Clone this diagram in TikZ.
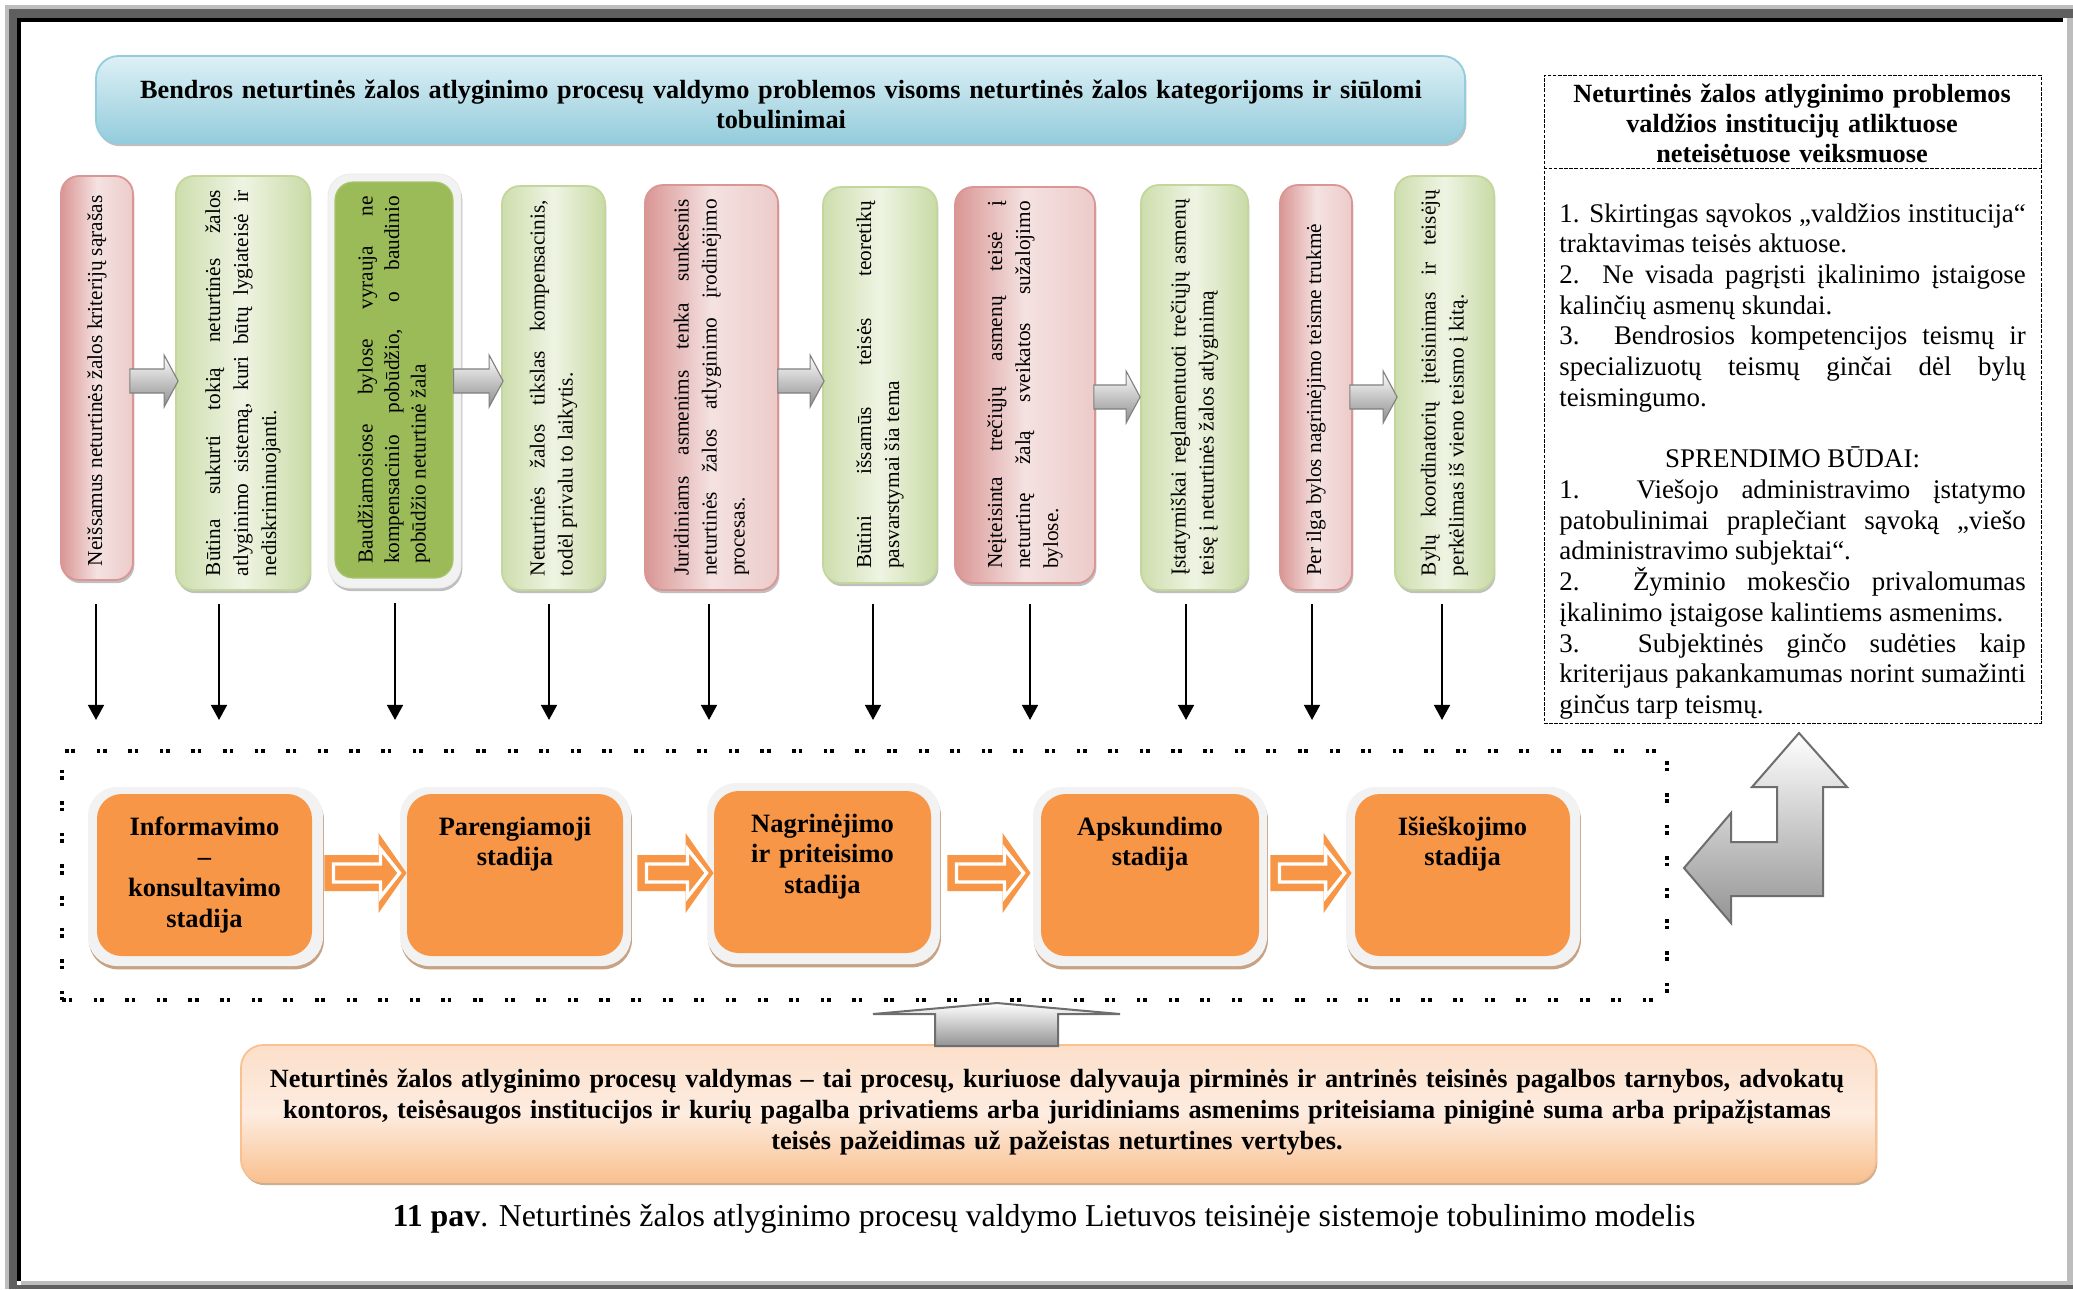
\documentclass[tikz,border=0pt]{standalone}
\usepackage{fontspec}
\setmainfont{Liberation Serif}
\usetikzlibrary{fit,calc,shadows,arrows.meta}

\definecolor{rdark}{HTML}{D99694}
\definecolor{rlight}{HTML}{F4E2E1}
\definecolor{gdark}{HTML}{C3D69B}
\definecolor{glight}{HTML}{EEF4E3}
\definecolor{gdeep}{HTML}{9BBB59}
\definecolor{stageor}{HTML}{F79646}
\definecolor{halo}{HTML}{F2F2F2}
\definecolor{bluetop}{HTML}{DDF0F5}
\definecolor{bluebot}{HTML}{94CCDC}
\definecolor{blueedge}{HTML}{93CDDD}
\definecolor{peach}{HTML}{FDECE0}
\definecolor{peachtop}{HTML}{FCDFCA}
\definecolor{peachdark}{HTML}{F9C08F}
\definecolor{peachedge}{HTML}{FAC08F}
\definecolor{arrowedge}{HTML}{6E6E6E}
\definecolor{framedark}{HTML}{5F5F5F}
\definecolor{framelight}{HTML}{BDBDBD}
\definecolor{shadowbrown}{HTML}{C09A78}

% block arrow pointing right: [style]{tail point}{tip point}{shaft half}{head half}{head length}
\newcommand\blockarrow[6][]{%
  \path[#1] ($(#2)+(0,-#4)$) -- ($(#3)+(-#6,-#4)$) -- ($(#3)+(-#6,-#5)$) -- (#3)
    -- ($(#3)+(-#6,#5)$) -- ($(#3)+(-#6,#4)$) -- ($(#2)+(0,#4)$) -- cycle;}

\tikzset{
  boxshadow/.style={drop shadow={shadow xshift=0.6pt,shadow yshift=-1.4pt,fill=black!55,opacity=0.45}},
  tallbox/.style={rounded corners=8pt,line width=0.8pt,inner sep=0pt,boxshadow},
  redbox/.style={tallbox,draw=rdark,left color=rdark,right color=rlight!70!rdark,middle color=rlight},
  greenbox/.style={tallbox,draw=gdark,left color=gdark!75!glight,right color=gdark!85!glight,middle color=glight},
  halobox/.style={rounded corners=10pt,inner sep=0pt,fill=halo,draw=black!8,line width=0.4pt,boxshadow},
  deepbox/.style={rounded corners=8pt,inner sep=0pt,fill=gdeep,draw=gdeep!85!white,line width=0.5pt},
  vtext/.style={rotate=90,align=justify,inner sep=0pt,font=\fontsize{9.5}{12.5}\selectfont,
    execute at begin node={\tolerance=10000\hyphenpenalty=10000\hbadness=10000}},
  grayblock/.style={top color=white,bottom color=black!45,draw=black!50,line width=0.5pt},
  stagehalo/.style={rounded corners=13pt,inner sep=0pt,fill=halo,
    drop shadow={shadow xshift=0.4pt,shadow yshift=-1.5pt,fill=shadowbrown,opacity=0.9}},
  stagebox/.style={rounded corners=11pt,inner sep=0pt,fill=stageor},
  stagetext/.style={text width=110pt,align=center,anchor=base,inner sep=0pt,
    font=\bfseries\fontsize{11.8}{13.8}\selectfont},
  orangeblock/.style={fill=stageor},
  orangeinner/.style={fill=stageor,draw=white,line width=1.5pt,line join=miter},
  downarrow/.style={line width=1.1pt,-{Triangle[width=7pt,length=6.7pt]}},
  stageframe/.style={draw=black,line width=1.6pt,inner sep=0pt,
    dash pattern=on 1.6pt off 1.3pt on 1.6pt off 9.6pt},
  bentarrow/.style={top color=white,bottom color=black!42,draw=arrowedge,line width=0.9pt,line join=miter},
  banner/.style={rounded corners=10pt,inner sep=0pt,top color=bluetop,bottom color=bluebot,
    draw=blueedge,line width=0.8pt,boxshadow},
  bannertext/.style={text width=640pt,align=center,anchor=base,inner sep=0pt,
    font=\bfseries\fontsize{11.72}{13.4}\selectfont},
  notebox/.style={rounded corners=10pt,inner sep=0pt,top color=peachtop,bottom color=peachdark,
    middle color=peach,draw=peachedge,line width=0.8pt,
    drop shadow={shadow xshift=0.6pt,shadow yshift=-1.4pt,fill=shadowbrown,opacity=0.8}},
  notetext/.style={text width=740pt,align=center,anchor=base,inner sep=0pt,
    font=\bfseries\fontsize{11.72}{14}\selectfont},
  sidebox/.style={draw=black,line width=0.45pt,dash pattern=on 1.6pt off 0.7pt,inner sep=0pt},
  sidetitle/.style={text width=215pt,align=center,anchor=base,inner sep=0pt,
    font=\bfseries\fontsize{11.72}{13.55}\selectfont},
  sidetext/.style={text width=208pt,align=justify,anchor=base west,inner sep=0pt,
    font=\fontsize{12}{13.7}\selectfont,
    execute at begin node={\tolerance=10000\hyphenpenalty=10000\hbadness=10000}},
  captiontext/.style={anchor=base,inner sep=0pt,font=\fontsize{14.2}{16}\selectfont},
}

\begin{document}
\begin{tikzpicture}[x=0.446pt,y=-0.446pt]
\useasboundingbox (0,0) rectangle (2073,1289);
\fill[white] (0,0) rectangle (2073,1289);

% page frame
\fill[framelight] (5,5) rectangle (2073,9);
\fill[framelight] (5,5) rectangle (9,1289);
\fill[framedark] (9,9) rectangle (2073,18);
\fill[framedark] (9,9) rectangle (17,1289);
\fill[framedark] (9,1285) rectangle (2073,1289);
\fill[black] (17,18) rectangle (2063,22);
\fill[black] (17,18) rectangle (21,1281);
\fill[framelight] (2067,18) rectangle (2073,1285);
\fill[framelight] (21,1281) rectangle (2067,1285);

% heading banner
\node[banner,fit={(96,56) (1465,143)}] (banner) {};
\node[bannertext] (bannerlbl) at (781,98) {Bendros neturtinės žalos atlyginimo procesų valdymo problemos visoms neturtinės žalos kategorijoms ir siūlomi\\tobulinimai};

% problem boxes
\node[redbox,fit={(61,176) (133,580)}] (b1) {};
\node[greenbox,fit={(176,176) (310,590)}] (b2) {};
\node[halobox,fit={(328,174) (461,588)}] (b3) {};
\node[deepbox,fit={(335,182) (453,578)}] (b3in) {};
\node[greenbox,fit={(502,186) (605,590)}] (b4) {};
\node[redbox,fit={(645,185) (778,590)}] (b5) {};
\node[greenbox,fit={(823,187) (937,583)}] (b6) {};
\node[redbox,fit={(955,187) (1095,583)}] (b7) {};
\node[greenbox,fit={(1141,185) (1248,590)}] (b8) {};
\node[redbox,fit={(1280,185) (1352,590)}] (b9) {};
\node[greenbox,fit={(1395,176) (1494,590)}] (b10) {};

\node[vtext,text width=167.7pt] (t1) at (b1.center) {Neišsamus neturtinės žalos kriterijų sąrašas};
\node[vtext,text width=172.2pt] (t2) at (b2.center) {Būtina sukurti tokią neturtinės žalos\linebreak atlyginimo sistemą, kuri būtų lygiateisė ir\linebreak nediskriminuojanti.};
\node[vtext,text width=164.1pt,font=\fontsize{9.5}{11.8}\selectfont] (t3) at (b3in.center) {Baudžiamosiose bylose vyrauja ne\linebreak kompensacinio pobūdžio, o baudinio\linebreak pobūdžio neturtinė žala};
\node[vtext,text width=167.7pt] (t4) at (b4.center) {Neturtinės žalos tikslas kompensacinis,\linebreak todėl privalu to laikytis.};
\node[vtext,text width=168.1pt] (t5) at (b5.center) {Juridiniams asmenims tenka sunkesnis\linebreak neturtinės žalos atlyginimo įrodinėjimo\linebreak procesas.};
\node[vtext,text width=164.1pt] (t6) at (b6.center) {Būtini išsamūs teisės teoretikų\linebreak pasvarstymai šia tema};
\node[vtext,text width=164.1pt] (t7) at (b7.center) {Neįteisinta trečiųjų asmenų teisė į\linebreak neturtinę žalą sveikatos sužalojimo\linebreak bylose.};
\node[vtext,text width=168.1pt] (t8) at (b8.center) {Įstatymiškai reglamentuoti trečiųjų asmenų\linebreak teisę į neturtinės žalos atlyginimą};
\node[vtext,text width=168.1pt] (t9) at (b9.center) {Per ilga bylos nagrinėjimo teisme trukmė};
\node[vtext,text width=172.2pt] (t10) at (b10.center) {Bylų koordinatorių įteisinimas ir teisėjų\linebreak perkėlimas iš vieno teismo į kitą.};

% grey block arrows between the problem boxes
\coordinate (lvA) at (0,381);
\coordinate (lvB) at (0,397);
\coordinate (g1a) at ($(b1.east |- lvA)+(-4,0)$);  \coordinate (g1b) at ($(b2.west |- lvA)+(3,0)$);
\coordinate (g2a) at ($(b3.east |- lvA)+(-8,0)$);  \coordinate (g2b) at ($(b4.west |- lvA)+(2,0)$);
\coordinate (g3a) at ($(b5.east |- lvA)+(-1,0)$);  \coordinate (g3b) at ($(b6.west |- lvA)+(2,0)$);
\coordinate (g4a) at ($(b7.east |- lvB)+(-2,0)$);  \coordinate (g4b) at ($(b8.west |- lvB)+(0,0)$);
\coordinate (g5a) at ($(b9.east |- lvB)+(-3,0)$);  \coordinate (g5b) at ($(b10.west |- lvB)+(3,0)$);
\foreach \i in {1,...,5} {\blockarrow[grayblock]{g\i a}{g\i b}{12}{26}{14}}

% stage frame
\node[stageframe,fit={(62,751) (1667,1000)}] (stages) {};

% arrows from the problem boxes down to the stage frame
\foreach \b/\x/\s in {b1/96/10.3,b2/219/5.8,b3/395/6.7,b4/549/5.8,b5/709/5.8,
                      b6/873/8.9,b7/1030/8.9,b8/1186/5.8,b9/1312/5.8,b10/1442/5.8} {
  \coordinate (d\b) at (\x,720);
  \draw[downarrow,shorten <=\s pt] (\b.south -| d\b) -- (d\b);
}

% process stages
\node[stagehalo,fit={(88,787) (323,966)}] (h1) {};
\node[stagehalo,fit={(400,787) (631,966)}] (h2) {};
\node[stagehalo,fit={(707,783) (940,964)}] (h3) {};
\node[stagehalo,fit={(1033,787) (1267,966)}] (h4) {};
\node[stagehalo,fit={(1346,787) (1580,966)}] (h5) {};
\node[stagebox,fit={(97,794) (312,956)}] (s1) {};
\node[stagebox,fit={(407,794) (623,956)}] (s2) {};
\node[stagebox,fit={(714,791) (931,953)}] (s3) {};
\node[stagebox,fit={(1041,794) (1259,956)}] (s4) {};
\node[stagebox,fit={(1355,794) (1570,956)}] (s5) {};

\node[stagetext] (l1) at (s1.center |- 0,835) {Informavimo\\–\\konsultavimo\\stadija};
\node[stagetext] (l2) at (s2.center |- 0,835) {Parengiamoji\\stadija};
\node[stagetext] (l3) at (s3.center |- 0,832) {Nagrinėjimo\\ir priteisimo\\stadija};
\node[stagetext] (l4) at (s4.center |- 0,835) {Apskundimo\\stadija};
\node[stagetext] (l5) at (s5.center |- 0,835) {Išieškojimo\\stadija};

% orange arrows between the stages
\coordinate (lvS) at (0,873);
\coordinate (o1a) at ($(h1.east |- lvS)+(1,0)$);  \coordinate (o1b) at ($(s2.west |- lvS)+(0,0)$);
\coordinate (o2a) at ($(h2.east |- lvS)+(6,0)$);  \coordinate (o2b) at ($(s3.west |- lvS)+(0,0)$);
\coordinate (o3a) at ($(h3.east |- lvS)+(7,0)$);  \coordinate (o3b) at ($(s4.west |- lvS)+(-10,0)$);
\coordinate (o4a) at ($(h4.east |- lvS)+(3,0)$);  \coordinate (o4b) at ($(s5.west |- lvS)+(-3,0)$);
\foreach \i in {1,...,4} {
  \blockarrow[orangeblock]{o\i a}{o\i b}{18}{40}{28}
  \coordinate (p\i a) at ($(o\i a)+(9,0)$);
  \coordinate (p\i b) at ($(o\i b)+(-7,0)$);
  \blockarrow[orangeinner]{p\i a}{p\i b}{9}{24}{19}
}

% side panel
\node[sidebox,fit={(1544,75) (2041,723)}] (side) {};
\coordinate (sep) at (0,168);
\draw[sidebox] (side.west |- sep) -- (side.east |- sep);
\node[sidetitle] (sidehead) at (1792,102) {Neturtinės žalos atlyginimo problemos\\valdžios institucijų atliktuose\\neteisėtuose veiksmuose};
\node[sidetext] (sidebody) at (1559,222) {%
1. Skirtingas sąvokos „valdžios institucija“\linebreak traktavimas teisės aktuose.\par
2. Ne visada pagrįsti įkalinimo įstaigose\linebreak kalinčių asmenų skundai.\par
3. Bendrosios kompetencijos teismų ir\linebreak specializuotų teismų ginčai dėl bylų\linebreak teismingumo.\par
\vspace{\baselineskip}
\makebox[\linewidth]{SPRENDIMO BŪDAI:}\par
1. Viešojo administravimo įstatymo\linebreak patobulinimai praplečiant sąvoką „viešo\linebreak administravimo subjektai“.\par
2. Žyminio mokesčio privalomumas\linebreak įkalinimo įstaigose kalintiems asmenims.\par
3. Subjektinės ginčo sudėties kaip\linebreak kriterijaus pakankamumas norint sumažinti\linebreak ginčus tarp teismų.};

% bent two-way arrow between the stage frame and the side panel
\path[bentarrow] (1799,733) -- (1847,787) -- (1823,787) -- (1823,896) -- (1731,896)
  -- (1731,923) -- (1684,868) -- (1731,813) -- (1731,842) -- (1777,842) -- (1777,787)
  -- (1752,787) -- cycle;

% definition note with its arrow up to the stage frame
\node[notebox,fit={(241,1045) (1876,1182)}] (note) {};
\path[bentarrow] (997,1003) -- (1120,1014) -- (1058,1014) -- (1058,1046) -- (935,1046)
  -- (935,1014) -- (873,1014) -- cycle;
\node[notetext] (notelbl) at (1057,1087) {Neturtinės žalos atlyginimo procesų valdymas – tai procesų, kuriuose dalyvauja pirminės ir antrinės teisinės pagalbos tarnybos, advokatų\\kontoros, teisėsaugos institucijos ir kurių pagalba privatiems arba juridiniams asmenims priteisiama piniginė suma arba pripažįstamas\\teisės pažeidimas už pažeistas neturtines vertybes.};

% caption
\node[captiontext] (caption) at (1044,1226) {\textbf{11 pav}. Neturtinės žalos atlyginimo procesų valdymo Lietuvos teisinėje sistemoje tobulinimo modelis};
\end{tikzpicture}
\end{document}
